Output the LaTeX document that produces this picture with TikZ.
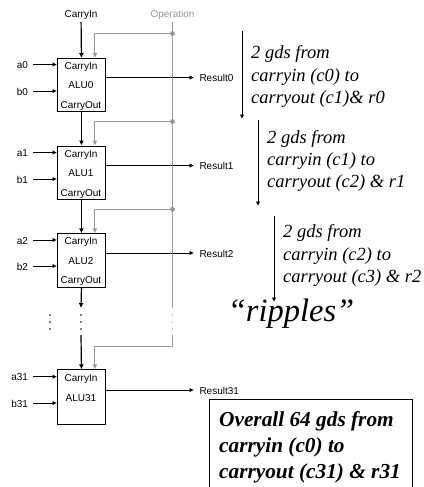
\documentclass[tikz,border=0pt]{standalone}
\usepackage{fontspec}
\setmainfont{Liberation Serif}
\newfontfamily\labelfont{Liberation Sans}
\usetikzlibrary{arrows.meta}
\definecolor{busgray}{gray}{0.6}
\tikzset{
  alubox/.style={draw, line width=0.9pt, minimum width=48pt, inner sep=0pt, anchor=north west},
  sig/.style={font=\labelfont\fontsize{10}{12}\selectfont, inner sep=0pt, text height=8pt, text depth=0pt},
  sigin/.style={sig, anchor=east, outer xsep=5pt},
  sigout/.style={sig, anchor=west, outer xsep=5.5pt},
  note/.style={font=\fontsize{18.5}{22.3}\selectfont\itshape, align=left, anchor=west, inner sep=0pt},
  wire/.style={line width=0.9pt, -{Latex[length=4.5pt,width=4.5pt]}},
  carrywire/.style={line width=1.2pt, -{Latex[length=5pt,width=5pt]}},
  opwire/.style={busgray, line width=1pt, -{Latex[length=5pt,width=5pt]}},
  opbus/.style={busgray, line width=1pt},
  tap/.style={circle, fill=busgray, inner sep=0pt, minimum size=5pt},
  dotrow/.style={inner sep=0pt, circle, fill=black, minimum size=1.6pt},
  graydot/.style={inner sep=0pt, circle, fill=busgray, minimum size=1.2pt}
}
\begin{document}
\begin{tikzpicture}[x=1pt, y=-1pt]
  \useasboundingbox (0,0) rectangle (423,487);
  % ALU blocks
  \node[alubox, minimum height=53pt] (alu0) at (57,58) {};
  \node[alubox, minimum height=53.5pt] (alu1) at (57,145.5) {};
  \node[alubox, minimum height=53.5pt] (alu2) at (57,233.3) {};
  \node[alubox, minimum height=54.5pt] (alu31) at (57,369.3) {};
  % Block texts
  \node[sig] at (81,65.5) {CarryIn};
  \node[sig] at (81,84.5) {ALU0};
  \node[sig] at (81,104.5) {CarryOut};
  \node[sig] at (81,153) {CarryIn};
  \node[sig] at (81,172.5) {ALU1};
  \node[sig] at (81,192) {CarryOut};
  \node[sig] at (81,240.5) {CarryIn};
  \node[sig] at (81,260.5) {ALU2};
  \node[sig] at (81,279.5) {CarryOut};
  \node[sig] at (81,377) {CarryIn};
  \node[sig] at (81,397) {ALU31};
  % Top labels
  \node[sig, outer ysep=4pt] (cin) at (81,14) {CarryIn};
  \node[sig, text=busgray, outer ysep=4pt] (op) at (172.5,14) {Operation};
  % Inputs
  \node[sigin] (a0) at (33,64.5) {a0};
  \node[sigin] (b0) at (33,91) {b0};
  \node[sigin] (a1) at (33,152.5) {a1};
  \node[sigin] (b1) at (33,179) {b1};
  \node[sigin] (a2) at (33,240) {a2};
  \node[sigin] (b2) at (33,266) {b2};
  \node[sigin] (a31) at (33,376.7) {a31};
  \node[sigin] (b31) at (33,403) {b31};
  \draw[wire] (a0) -- (a0 -| alu0.west);
  \draw[wire] (b0) -- (b0 -| alu0.west);
  \draw[wire] (a1) -- (a1 -| alu1.west);
  \draw[wire] (b1) -- (b1 -| alu1.west);
  \draw[wire] (a2) -- (a2 -| alu2.west);
  \draw[wire] (b2) -- (b2 -| alu2.west);
  \draw[wire] (a31) -- (a31 -| alu31.west);
  \draw[wire] (b31) -- (b31 -| alu31.west);
  % Outputs
  \node[sigout] (r0) at (194,77.5) {Result0};
  \node[sigout] (r1) at (194,165.5) {Result1};
  \node[sigout] (r2) at (194,253) {Result2};
  \node[sigout] (r31) at (194,390) {Result31};
  \draw[wire] (r0 -| alu0.east) -- (r0);
  \draw[wire] (r1 -| alu1.east) -- (r1);
  \draw[wire] (r2 -| alu2.east) -- (r2);
  \draw[wire] (r31 -| alu31.east) -- (r31);
  % Operation bus
  \coordinate (opend) at (172.5,308);
  \coordinate (oprest) at (172.5,335);
  \coordinate (oplast) at (172.5,346.7);
  \node[tap] (tap0) at (172.5,33.5) {};
  \node[tap] (tap1) at (172.5,121.5) {};
  \node[tap] (tap2) at (172.5,209.3) {};
  \draw[opbus] (op) -- (opend);
  \draw[opbus] (oprest) -- (oplast);
  \draw[opwire] (tap0) -| ([xshift=13.5pt]alu0.north);
  \draw[opwire] (tap1) -| ([xshift=13.5pt]alu1.north);
  \draw[opwire] (tap2) -| ([xshift=13.5pt]alu2.north);
  \draw[opwire] (oplast) -| ([xshift=13.5pt]alu31.north);
  % Carry chain
  \coordinate (cgap) at (81,308);
  \coordinate (crest) at (81,335);
  \draw[carrywire] (cin) -- (alu0.north);
  \draw[carrywire] (alu0.south) -- (alu1.north);
  \draw[carrywire] (alu1.south) -- (alu2.north);
  \draw[carrywire] (alu2.south) -- (cgap);
  \draw[carrywire] (crest) -- (alu31.north);
  % Dots
  \foreach \y in {315,322,329} {
    \node[dotrow] at (50,\y) {};
    \node[dotrow] at (81,\y) {};
    \node[graydot] at (172.5,\y) {};
  }
  % Delay notes
  \node[note] (note0) at (251,76.5) {2 gds from\\carryin (c0) to\\carryout (c1)\& r0};
  \node[note] (note1) at (267,161) {2 gds from\\carryin (c1) to\\carryout (c2) \& r1};
  \node[note] (note2) at (283,255.5) {2 gds from\\carryin (c2) to\\carryout (c3) \& r2};
  \coordinate (d0a) at (242,31);
  \coordinate (d0b) at (242,119);
  \coordinate (d1a) at (258,120);
  \coordinate (d1b) at (258,206);
  \coordinate (d2a) at (274,216);
  \coordinate (d2b) at (274,302);
  \draw[wire] (d0a) -- (d0b);
  \draw[wire] (d1a) -- (d1b);
  \draw[wire] (d2a) -- (d2b);
  \node[font=\fontsize{32.5}{36}\selectfont\itshape, inner sep=0pt] (ripples) at (291,314) {``ripples''};
  % Overall box
  \draw[line width=0.9pt] (209.5,487) -- (209.5,399.5) -- (412.7,399.5) -- (412.7,487);
  \node[note, font=\fontsize{21.3}{26}\selectfont\itshape\bfseries] (overall) at (219,447) {Overall 64 gds from\\carryin (c0) to\\carryout (c31) \& r31};
\end{tikzpicture}
\end{document}
